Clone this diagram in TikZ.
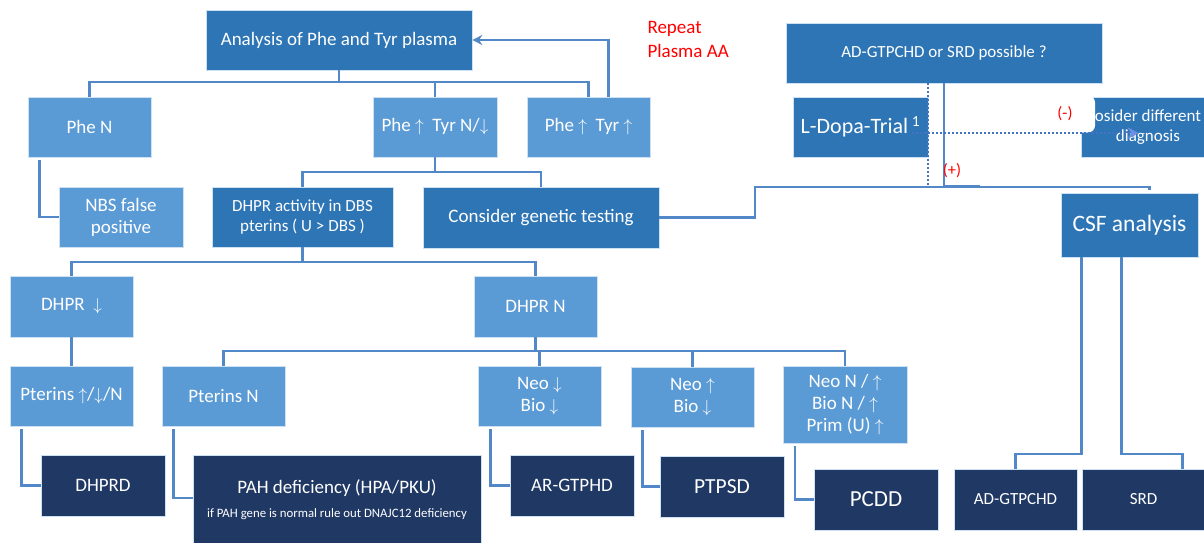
\documentclass[tikz,border=0pt]{standalone}
\usepackage{fontspec}
\setmainfont{Carlito}
\usepackage{tikz}
\usetikzlibrary{arrows.meta,calc}
\definecolor{midblue}{HTML}{2E75B6}
\definecolor{lightblue}{HTML}{5B9BD5}
\definecolor{darkblue}{HTML}{203864}
\definecolor{linecol}{HTML}{5287C8}
\definecolor{dotcol}{HTML}{4472C4}
\definecolor{tipcol}{HTML}{6C8EE6}

\begin{document}
\begin{tikzpicture}[x=1pt,y=-1pt,>={Stealth[length=10pt,width=10pt]},font=\fontsize{19}{22}\selectfont]
  \tikzstyle{box}=[rectangle,draw=white!70!lightblue,line width=0.6pt,text=white,align=center,
                   inner sep=1pt,minimum width=124pt,minimum height=60pt]
  \tikzstyle{mid}=[box,fill=midblue]
  \tikzstyle{light}=[box,fill=lightblue]
  \tikzstyle{dark}=[box,fill=darkblue]
  \tikzstyle{conn}=[draw=linecol,line width=2.2pt]
  \tikzstyle{elbow}=[conn,shorten <=3pt]
  \tikzstyle{dots}=[draw=dotcol,line width=2pt,dash pattern=on 2pt off 2pt]
  \tikzstyle{small}=[font=\fontsize{17}{20}\selectfont]
  \tikzstyle{sign}=[text=red,font=\fontsize{16.5}{18}\selectfont]

  \clip (0,0) rectangle (1204,543);

  % first level
  \node[mid,minimum width=266pt] (ana) at (339,40) {Analysis of Phe and Tyr plasma};
  \node[text=red,align=left,anchor=west,font=\fontsize{19}{24}\selectfont] (rep) at (644,39) {Repeat\\Plasma AA};
  \node[mid,small,minimum width=316pt] (ads) at (944,53) {AD-GTPCHD or SRD possible ?};
  \node[mid,minimum width=135pt,font=\fontsize{22}{25}\selectfont] (ldopa) at (860.5,127) {L-Dopa-Trial\,\textsuperscript{1}};
  \node[mid,small,minimum width=134pt] (diff) at (1148,127) {osider different\\diagnosis};
  \node[sign,fill=white,rounded corners=7pt,minimum width=60pt,minimum height=37pt] (minus) at (1065,114) {(-)};

  \node[light,minimum width=123pt] (phen)  at (89.5,127) {Phe N};
  \node[light]                     (phetn) at (435,127)  {Phe $\uparrow$\ \ Tyr N/$\downarrow$};
  \node[light,minimum width=123pt] (phett) at (588.5,127) {Phe $\uparrow$\ \ Tyr $\uparrow$};

  % second level
  \node[light] (nbs) at (121,217) {NBS false\\positive};
  \node[mid,small,minimum width=181pt] (dhpra) at (302.5,217) {DHPR activity in DBS\\pterins ( U > DBS )};
  \node[mid,minimum width=236pt,minimum height=61pt] (gen) at (541,217.5) {Consider genetic testing};
  \node[mid,minimum width=137pt,minimum height=64pt,font=\fontsize{23.5}{26}\selectfont] (csf) at (1129.5,225) {CSF analysis};

  \node[light,minimum width=123pt,minimum height=61pt] (dhprd) at (71.5,306.5)  {DHPR\ \ $\downarrow$};
  \node[light,minimum width=123pt,minimum height=61pt] (dhprn) at (535.5,306.5) {DHPR N};

  \node[light,minimum width=123pt] (ptall) at (71.5,396)  {Pterins $\uparrow$/$\downarrow$/N};
  \node[light,minimum width=123pt] (ptn)   at (223.5,396) {Pterins N};
  \node[light,minimum width=123pt] (nbd)   at (539.5,396) {Neo $\downarrow$\\Bio $\downarrow$};
  \node[light,minimum width=123pt] (nub)   at (692.5,397) {Neo $\uparrow$\\Bio $\downarrow$};
  \node[light,minimum height=77pt] (nnn)   at (845,404.5) {Neo N / $\uparrow$\\Bio N / $\uparrow$\\Prim (U) $\uparrow$};

  % diagnoses
  \node[dark,minimum height=61pt] (dhprdef) at (103,485.5) {DHPRD};
  \node[dark,minimum width=288pt,minimum height=90pt] (pah) at (337,500)
       {PAH deficiency (HPA/PKU)\\[2pt]{\fontsize{12.8}{14}\selectfont if PAH gene is normal rule out DNAJC12 deficiency}};
  \node[dark,minimum height=61pt] (argtp) at (572,485.5) {AR-GTPHD};
  \node[dark,minimum height=61pt,font=\fontsize{21.5}{24}\selectfont] (ptpsd) at (722,486.5) {PTPSD};
  \node[dark,minimum height=61pt,font=\fontsize{23}{25}\selectfont] (pcdd) at (876,499.5) {PCDD};
  \node[dark,small,minimum width=123pt,minimum height=61pt] (adg) at (1015.5,499.5) {AD-GTPCHD};
  \node[dark,small,minimum width=123pt,minimum height=61pt] (srd) at (1143.5,499.5) {SRD};

  % tree lines
  \coordinate (top) at ($(ana.south)+(0,12)$);
  \path[conn] (ana.south) edge (top);
  \draw[conn] (phen.north) |- (top) -| (phett.north);
  \draw[conn] (phetn.north) -- (phetn.north |- top);
  \draw[conn,->] ($(phett.north)+(20,0)$) |- (ana.east);
  \draw[elbow] ($(phen.south)+(-50,0)$) |- (nbs.west);

  \coordinate (mid1) at ($(phetn.south)+(0,15)$);
  \draw[conn] (phetn.south) -- (mid1);
  \draw[conn] (dhpra.north) |- (mid1) -| (gen.north);

  % genetic testing and L-Dopa branch
  \coordinate (bend) at ($(gen.east)+(96,0)$);
  \coordinate (split) at (ads.south |- dhpra.north);
  \draw[conn] (gen.east) -- (bend) |- (split) -- ($(csf.north)+(20,-6)$) -- ($(csf.north)+(20,-3)$);
  \draw[conn] (ads.south) -- (split);
  \draw[conn,line width=3.5pt] (split) -- ++(36,0);
  \draw[dots] (ads.south -| ldopa.east) -- (ldopa.east |- split);
  \draw[dots,-{Stealth[length=11pt,width=11pt,color=tipcol]}] ($(ldopa.east)+(-16,6)$) -- ($(diff.west)+(58,6)$);
  \node[sign] (plus) at ($(split)+(8,-16)$) {(+)};

  \draw[conn] ($(csf.south)+(-48,0)$) -- ++(0,197) -| (adg.north);
  \draw[conn] ($(csf.south)+(-8,0)$) -- ++(0,197) -| ($(srd.north)+(39,0)$);

  \coordinate (mid2) at ($(dhpra.south)+(0,15)$);
  \draw[conn] (dhpra.south) -- (mid2);
  \draw[conn] (dhprd.north) |- (mid2) -| (dhprn.north);
  \path[conn] (dhprd.south) edge (ptall.north);

  \coordinate (mid3) at ($(dhprn.south)+(0,14)$);
  \draw[conn] (dhprn.south) -- (mid3);
  \draw[conn] (ptn.north) |- (mid3) -| (nnn.north);
  \draw[conn] (nbd.north) -- (nbd.north |- mid3);
  \draw[conn] (nub.north) -- (nub.north |- mid3);

  \draw[elbow] ($(ptall.south)+(-50,0)$) |- (dhprdef.west);
  \draw[elbow] ($(ptn.south)+(-50,0)$) |- ($(pah.west)+(0,-2)$);
  \draw[elbow] ($(nbd.south)+(-49,0)$) |- (argtp.west);
  \draw[elbow] ($(nub.south)+(-50,0)$) |- (ptpsd.west);
  \draw[elbow] ($(nnn.south)+(-50,0)$) |- (pcdd.west);
\end{tikzpicture}
\end{document}
